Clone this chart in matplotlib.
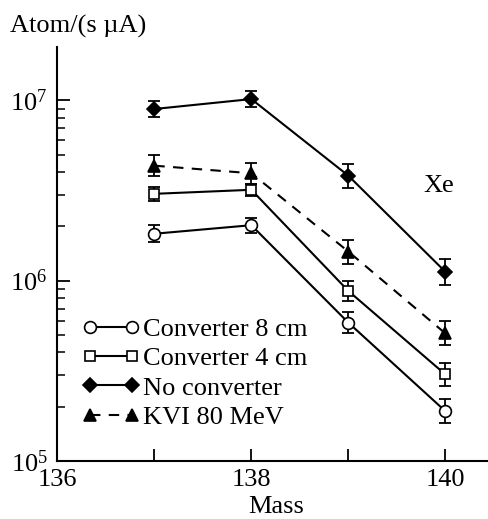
import matplotlib
matplotlib.use("Agg")
import matplotlib.pyplot as plt
import numpy as np
from matplotlib.ticker import LogLocator, FixedLocator, NullFormatter

plt.rcParams['font.family'] = ['Liberation Serif', 'DejaVu Serif']
plt.rcParams['mathtext.fontset'] = 'custom'
plt.rcParams['mathtext.rm'] = 'Liberation Serif'
plt.rcParams['mathtext.it'] = 'Liberation Serif:italic'

mass = [137, 138, 139, 140]

conv8 = [1.82e6, 2.03e6, 5.85e5, 1.89e5]
conv8_err = [1.114, 1.100, 1.143, 1.162]     # multiplicative error factors
conv4 = [3.03e6, 3.19e6, 8.77e5, 3.02e5]
conv4_err = [1.093, 1.080, 1.136, 1.162]
noconv = [8.95e6, 1.016e7, 3.82e6, 1.12e6]
noconv_err = [1.107, 1.104, 1.165, 1.177]
kvi = [4.34e6, 3.94e6, 1.45e6, 5.1e5]
kvi_err = [1.146, 1.146, 1.165, 1.165]

labels = ['Converter 8 cm', 'Converter 4 cm', 'No converter', 'KVI 80 MeV']

fs = 19
fig = plt.figure(figsize=(4.88, 5.19), dpi=100)
ax = fig.add_axes([0.1175, 0.1118, 0.8825, 0.798])

series = [
    (conv8, conv8_err, dict(marker='o', ms=8.5, mfc='white', ls='-')),
    (conv4, conv4_err, dict(marker='s', ms=7.5, mfc='white', ls='-')),
    (noconv, noconv_err, dict(marker='D', ms=7.5, mfc='black', ls='-')),
    (kvi, kvi_err, dict(marker='^', ms=8, mfc='black', ls=(0, (5, 4)))),
]

for (vals, fac, st), lab in zip(series, labels):
    v = np.array(vals)
    f = np.array(fac)
    ax.errorbar(mass, v, yerr=[v - v / f, v * f - v], fmt='none', ecolor='black',
                elinewidth=1.3, capsize=4.5, capthick=1.3, zorder=2)
    ax.plot(mass, v, color='black', lw=1.5, mec='black', mew=1.2, label=lab,
            zorder=3, **st)

ax.set_yscale('log')
ax.set_xlim(136, 140.44)
ax.set_ylim(1e5, 1.98e7)

ax.xaxis.set_major_locator(FixedLocator([136, 137, 138, 139, 140]))
ax.set_xticklabels(['136', '', '138', '', '140'])
ax.yaxis.set_major_locator(LogLocator(base=10))
ax.yaxis.set_minor_locator(LogLocator(base=10, subs=np.arange(2, 10)))
ax.yaxis.set_minor_formatter(NullFormatter())

for s in ['top', 'right']:
    ax.spines[s].set_visible(False)
for s in ['left', 'bottom']:
    ax.spines[s].set_linewidth(1.5)

ax.tick_params(axis='both', which='major', direction='in', length=9, width=1.3,
               labelsize=fs)
ax.tick_params(axis='y', which='minor', direction='in', length=6, width=1.1)
ax.tick_params(axis='y', which='major', pad=7)
ax.tick_params(axis='x', which='major', pad=6)

ax.set_xlabel('Mass', fontsize=fs, va='top')
ax.xaxis.set_label_coords((276 - 57.3) / 430.7, -0.085)
fig.text(10 / 488, 1 - 33 / 519, 'Atom/(s µA)', fontsize=fs, va='baseline', ha='left')
ax.text(139.93, 3.35e6, 'Xe', fontsize=fs, ha='center', va='center')

ax.legend(loc='upper left', bbox_to_anchor=(0.057, 0.346), frameon=False, fontsize=fs,
          numpoints=2, handlelength=2.2, handletextpad=0.12, labelspacing=0.22,
          borderaxespad=0, borderpad=0)

fig.savefig('out.png', dpi=100)
